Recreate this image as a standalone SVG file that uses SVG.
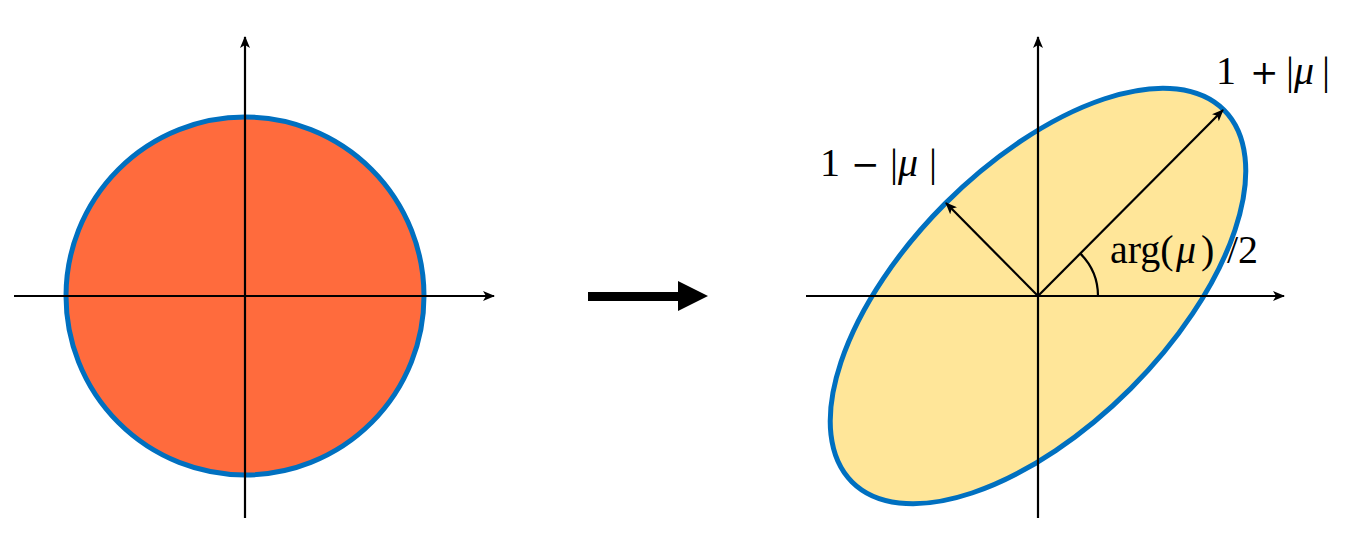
<svg xmlns="http://www.w3.org/2000/svg" width="1356" height="554" viewBox="0 0 1356 554">
<style>
.ax{stroke:#000;stroke-width:2.2;fill:none}
.lbl{font-family:"Liberation Serif","DejaVu Serif",serif;font-size:40px;fill:#000}
.it{font-style:italic}
.op{font-family:"DejaVu Serif",serif;font-size:34px}
</style>
<defs>
<marker id="ah" markerWidth="12" markerHeight="10" refX="11" refY="5" orient="auto" markerUnits="userSpaceOnUse">
<path d="M0,0 L12,5 L0,10 L3,5 Z" fill="#000"/>
</marker>
</defs>
<rect width="1356" height="554" fill="#fff"/>
<g id="circle">
<circle cx="245" cy="296" r="179" fill="#FF6B3D" stroke="#0070C0" stroke-width="5"/>
</g>
<g id="ellipse">
<ellipse cx="0" cy="0" rx="263" ry="131" transform="translate(1038,296) rotate(-45)" fill="#FFE699" stroke="#0070C0" stroke-width="5"/>
</g>
<g id="connectors">
<line class="ax" x1="14" y1="296" x2="494" y2="296" marker-end="url(#ah)"/>
<line class="ax" x1="245" y1="518" x2="245" y2="37" marker-end="url(#ah)"/>
<line class="ax" x1="806" y1="296" x2="1284" y2="296" marker-end="url(#ah)"/>
<line class="ax" x1="1038" y1="518" x2="1038" y2="37" marker-end="url(#ah)"/>
<line class="ax" x1="1038" y1="296" x2="1223" y2="110" marker-end="url(#ah)"/>
<line class="ax" x1="1038" y1="296" x2="946" y2="203" marker-end="url(#ah)"/>
<path class="ax" d="M1098,296 A60,60 0 0 0 1080.4,253.6"/>
<path d="M588,292 L678,292 L678,281 L708,296 L678,311 L678,301 L588,301 Z" fill="#000"/>
</g>
<g id="labels">
<text class="lbl" y="84"><tspan x="1216">1</tspan><tspan x="1250" class="op">+</tspan><tspan x="1286">|</tspan><tspan x="1294" class="it">μ</tspan><tspan x="1322">|</tspan></text>
<text class="lbl" y="176"><tspan x="820">1</tspan><tspan x="851" class="op">−</tspan><tspan x="890">|</tspan><tspan x="898" class="it">μ</tspan><tspan x="929">|</tspan></text>
<text class="lbl" y="263"><tspan x="1110">arg(</tspan><tspan x="1176" class="it">μ</tspan><tspan x="1201">)</tspan><tspan x="1227">/2</tspan></text>
</g>
</svg>
